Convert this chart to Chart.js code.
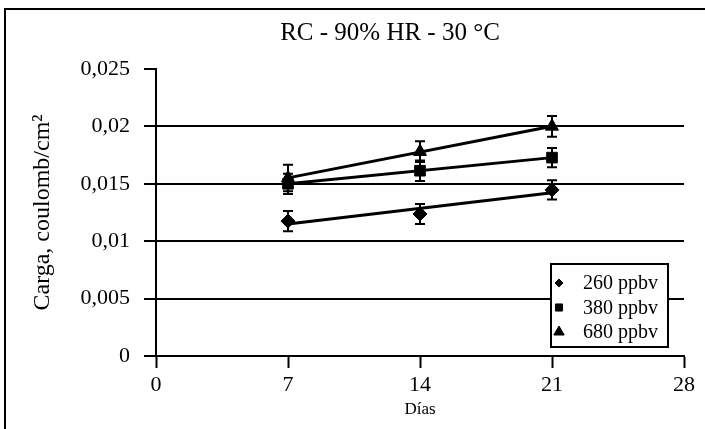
<!DOCTYPE html>
<html>
<head>
<meta charset="utf-8">
<script src="https://cdn.jsdelivr.net/npm/chart.js@4"></script>
<style>
  body { margin: 0; background: #fff; }
  #wrap { position: relative; width: 705px; height: 429px; }
  #frame {
    position: absolute; left: 4px; top: 8px; right: 0; bottom: 0;
    border-left: 2px solid #000; border-top: 2px solid #000;
    pointer-events: none;
  }
</style>
</head>
<body>
<div id="wrap">
  <canvas id="chart" width="705" height="429"></canvas>
  <div id="frame"></div>
</div>
<script>
/* ---------- DATA ---------- */
const days = [7, 14, 21];
const xTicks = [0, 7, 14, 21, 28];
const yTicks = [0, 0.005, 0.01, 0.015, 0.02, 0.025];

const labels = ['260 ppbv', '380 ppbv', '680 ppbv'];
const carga260 = [0.01175, 0.01237, 0.01447];
const carga380 = [0.0150, 0.01614, 0.01728];
const carga680 = [0.0155, 0.0178, 0.0200];
const err260 = [0.00088, 0.00088, 0.00083];
const err380 = [0.00088, 0.0009, 0.00083];
const err680 = [0.00115, 0.0009, 0.0009];

const FONT = "'Liberation Serif', 'Times New Roman', serif";

/* ---------- HELPERS ---------- */
function toPoints(ys) {
  return days.map((d, i) => ({ x: d, y: ys[i] }));
}

// least squares trendline, like the spreadsheet one
function trend(ys) {
  const n = days.length;
  const mx = days.reduce((a, b) => a + b, 0) / n;
  const my = ys.reduce((a, b) => a + b, 0) / n;
  let sxy = 0, sxx = 0;
  days.forEach((d, i) => { sxy += (d - mx) * (ys[i] - my); sxx += (d - mx) * (d - mx); });
  const m = sxy / sxx;
  const first = days[0], last = days[n - 1];
  return [{ x: first, y: my + m * (first - mx) }, { x: last, y: my + m * (last - mx) }];
}

const series = [
  { label: labels[0], values: carga260, errors: err260, style: 'rectRot', radius: 7, legendRadius: 4 },
  { label: labels[1], values: carga380, errors: err380, style: 'rect', radius: 7.5, legendRadius: 5 },
  { label: labels[2], values: carga680, errors: err680, style: 'triangle', radius: 7.5, legendRadius: 6 }
];

const datasets = [];
series.forEach(s => {
  datasets.push({
    label: s.label + ' trend', data: trend(s.values),
    showLine: true, borderColor: '#000', borderWidth: 3, pointRadius: 0
  });
});
series.forEach(s => {
  datasets.push({
    label: s.label, data: toPoints(s.values), errors: s.errors,
    showLine: false, pointStyle: s.style, pointRadius: s.radius,
    pointBackgroundColor: '#000', pointBorderColor: '#000', pointBorderWidth: 1
  });
});

/* ---------- PLUGINS ---------- */
const errorBars = {
  id: 'errorBars',
  afterDatasetsDraw(chart) {
    const { ctx, scales: { x, y } } = chart;
    ctx.save();
    ctx.strokeStyle = '#000';
    ctx.lineWidth = 2;
    chart.data.datasets.forEach(ds => {
      if (!ds.errors) return;
      ds.data.forEach((p, i) => {
        const px = x.getPixelForValue(p.x);
        const top = y.getPixelForValue(p.y + ds.errors[i]);
        const bot = y.getPixelForValue(p.y - ds.errors[i]);
        ctx.beginPath();
        ctx.moveTo(px, top); ctx.lineTo(px, bot);
        ctx.moveTo(px - 5, top); ctx.lineTo(px + 5, top);
        ctx.moveTo(px - 5, bot); ctx.lineTo(px + 5, bot);
        ctx.stroke();
      });
    });
    ctx.restore();
  }
};

const titleAndLegend = {
  id: 'titleAndLegend',
  afterDraw(chart) {
    const { ctx, chartArea } = chart;
    ctx.save();
    // title
    ctx.fillStyle = '#000';
    ctx.font = '25px ' + FONT;
    ctx.textAlign = 'center';
    ctx.textBaseline = 'middle';
    ctx.fillText('RC - 90% HR - 30 °C', 390, 33);

    // legend box
    const bx = chartArea.right - 133, by = 264, bw = 117, bh = 83;
    ctx.fillStyle = '#fff';
    ctx.fillRect(bx, by, bw, bh);
    ctx.strokeStyle = '#000';
    ctx.lineWidth = 2;
    ctx.strokeRect(bx, by, bw, bh);

    ctx.font = '20px ' + FONT;
    ctx.textAlign = 'left';
    series.forEach((s, i) => {
      const cy = by + 19 + i * 24.5;
      ctx.fillStyle = '#000';
      ctx.strokeStyle = '#000';
      ctx.lineWidth = 1;
      Chart.helpers.drawPoint(ctx, { pointStyle: s.style, radius: s.legendRadius, rotation: 0, borderWidth: 1 }, bx + 8, cy);
      ctx.fillStyle = '#000';
      ctx.fillText(s.label, bx + 32, cy + 1);
    });
    ctx.restore();
  }
};

/* ---------- CHART ---------- */
new Chart(document.getElementById('chart'), {
  type: 'scatter',
  data: { datasets: datasets },
  plugins: [errorBars, titleAndLegend],
  options: {
    responsive: false,
    animation: false,
    layout: { padding: { left: 20, top: 69, right: 21, bottom: 0 } },
    plugins: { legend: { display: false }, tooltip: { enabled: false } },
    scales: {
      x: {
        type: 'linear', min: 0, max: 28,
        afterBuildTicks: s => { s.ticks = xTicks.map(v => ({ value: v })); },
        afterFit: s => { s.height = 73; },
        ticks: { color: '#000', font: { family: FONT, size: 22 }, padding: 4 },
        grid: { drawOnChartArea: false, drawTicks: true, tickLength: 12, tickColor: '#000', tickWidth: 2 },
        border: { color: '#000', width: 2 },
        title: { display: true, text: 'Días', color: '#000', font: { family: FONT, size: 17 }, padding: { top: 0, bottom: 9 } }
      },
      y: {
        type: 'linear', min: 0, max: 0.025,
        afterBuildTicks: s => { s.ticks = yTicks.map(v => ({ value: v })); },
        afterFit: s => { s.width = 136; },
        ticks: {
          color: '#000', font: { family: FONT, size: 22 }, padding: 14,
          callback: v => v === 0 ? '0' : String(Number(v.toFixed(3))).replace('.', ',')
        },
        grid: {
          color: c => (c.tick && c.tick.value === 0.025) ? 'rgba(0,0,0,0)' : '#000',
          lineWidth: 2, tickLength: 12, tickColor: '#000', tickWidth: 2
        },
        border: { color: '#000', width: 2 },
        title: { display: true, text: 'Carga, coulomb/cm²', color: '#000', font: { family: FONT, size: 24 }, padding: { top: 8, bottom: 0 } }
      }
    }
  }
});
</script>
</body>
</html>
